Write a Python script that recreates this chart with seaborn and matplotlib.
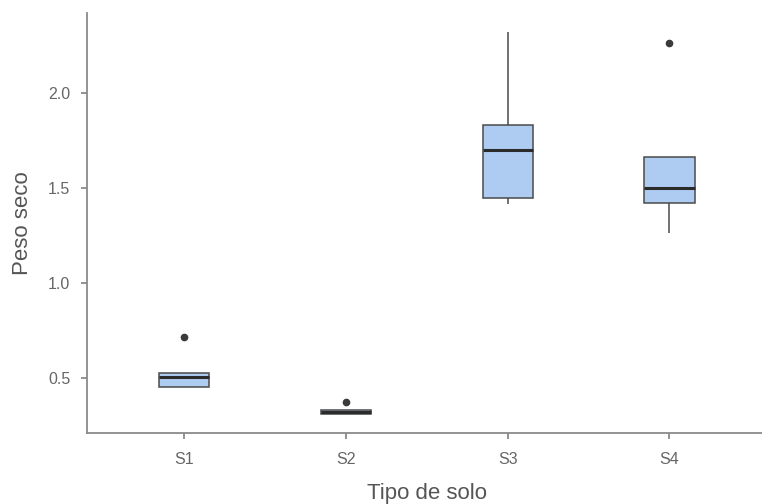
import pandas as pd
import matplotlib.pyplot as plt
import seaborn as sns

s1 = [0.453, 0.453, 0.504, 0.528, 0.717]
s2 = [0.308, 0.308, 0.322, 0.333, 0.372]
s3 = [1.414, 1.446, 1.700, 1.832, 2.323]
s4 = [1.265, 1.423, 1.497, 1.660, 2.265]
soil_types = ["S1", "S2", "S3", "S4"]

df = pd.DataFrame({
    "solo": [s for s, vals in zip(soil_types, [s1, s2, s3, s4]) for _ in vals],
    "peso": s1 + s2 + s3 + s4,
})

sns.set_style("ticks")
plt.rcParams["font.family"] = ["Liberation Sans", "DejaVu Sans"]

fig = plt.figure(figsize=(7.62, 5.04), dpi=100)
ax = fig.add_axes([0.114, 0.141, 0.892, 0.833])

sns.boxplot(data=df, x="solo", y="peso", order=soil_types, ax=ax,
            color="#aecbf2", width=0.31, linecolor="#4a4a4a", linewidth=1.1,
            showcaps=False, saturation=1,
            medianprops={"color": "#2b2b2b", "linewidth": 2.2},
            flierprops={"marker": "o", "markersize": 4.5, "markerfacecolor": "#3a3a3a",
                        "markeredgecolor": "#3a3a3a"})

ax.set_xlim(-0.6, 3.6)
ax.set_ylim(0.21, 2.42)
ax.set_yticks([0.5, 1.0, 1.5, 2.0])
ax.set_yticklabels(["0.5", "1.0", "1.5", "2.0"])

for side in ["top", "right"]:
    ax.spines[side].set_visible(False)
for side in ["left", "bottom"]:
    ax.spines[side].set_color("#8a8a8a")
    ax.spines[side].set_linewidth(1.3)
ax.tick_params(axis="both", colors="#8a8a8a", length=4, width=1.3, labelsize=11.5,
               labelcolor="#666666")
ax.tick_params(axis="x", pad=10)
ax.tick_params(axis="y", pad=8)

ax.set_xlabel("Tipo de solo", fontsize=16, color="#555555", labelpad=11)
ax.set_ylabel("Peso seco", fontsize=16, color="#555555", labelpad=11)

fig.savefig("out.png", dpi=100)
